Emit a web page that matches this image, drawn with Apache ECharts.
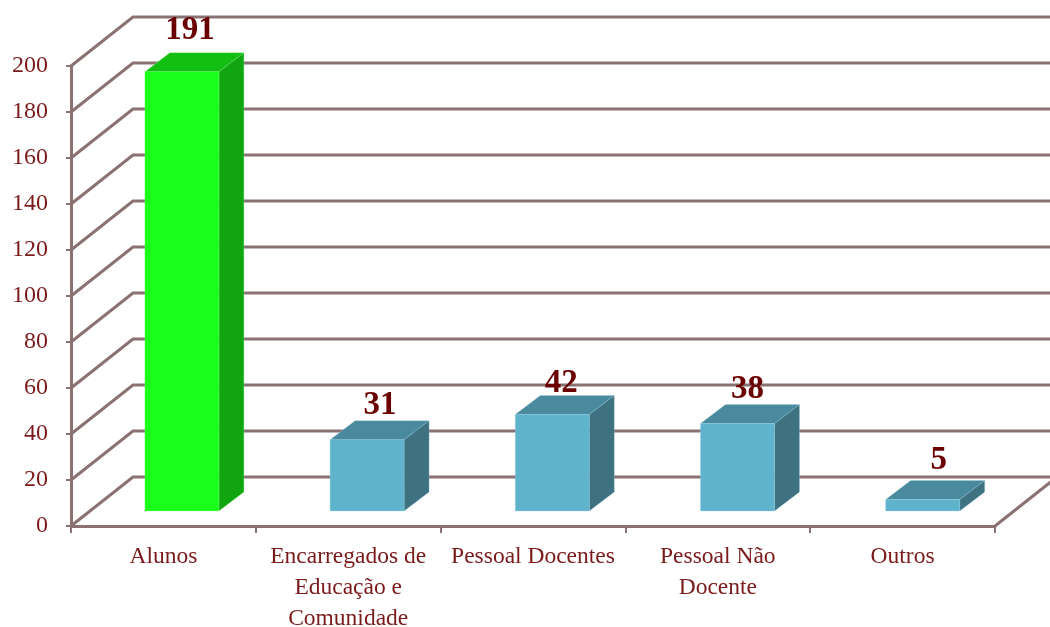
<!DOCTYPE html>
<html><head><meta charset="utf-8">
<style>html,body{margin:0;padding:0;background:#fff}#c{width:1050px;height:627px}</style>
<script src="https://cdn.jsdelivr.net/npm/echarts@6/dist/echarts.min.js"></script>
</head><body><div id="c"></div>
<script>
const categories = ["Alunos","Encarregados de\nEducação e\nComunidade","Pessoal Docentes","Pessoal Não\nDocente","Outros"];
const values = [191,31,42,38,5];
const yTicks = [0,20,40,60,80,100,120,140,160,180,200];

const WALL_DX = 62, WALL_DY = 49;      // depth of the whole chart box
const BAR_DX = 25, BAR_DY = 19;        // depth of a bar
const BAR_SHIFT_X = 18.5, BAR_SHIFT_Y = 15, BAR_DRIFT = 0.4; // bars stand mid-way on the floor
const BAR_W = 74;
const LINE = '#8a7272', FONT = '"Liberation Serif", serif';
const palette = [
  {front:'#1aff1a', top:'#14bf14', side:'#12a512', edge:'rgba(120,255,120,.3)'},
  {front:'#60b3cd', top:'#4a8a9e', side:'#3f7280', edge:'rgba(150,205,225,.3)'}
];
const labelNudge = [[8,-22],[13,-15],[9,-12],[10,-15],[16,-20]];

const chart = echarts.init(document.getElementById('c'));
function poly(points, fill, stroke){
  return {type:'polygon', shape:{points}, style:{fill, stroke:stroke||fill, lineWidth:1}};
}
chart.setOption({
  animation:false,
  grid:{left:71,right:55,top:66,bottom:101,outerBoundsMode:'none'},
  xAxis:{type:'category',data:categories,boundaryGap:true,
    axisLine:{lineStyle:{color:LINE,width:3}},
    axisTick:{show:true,alignWithLabel:false,length:7,lineStyle:{color:LINE,width:2}},
    axisLabel:{color:'#7a1a1a',fontFamily:FONT,fontSize:23.5,lineHeight:31,margin:15,interval:0},
    splitLine:{show:false}},
  yAxis:{type:'value',min:0,max:200,interval:20,
    axisLine:{show:true,lineStyle:{color:LINE,width:3}},
    axisTick:{show:true,length:5,lineStyle:{color:LINE,width:2}},
    axisLabel:{color:'#7a1a1a',fontFamily:FONT,fontSize:24,margin:23},
    splitLine:{show:false}},
  series:[
    {type:'custom',clip:false,z:1,silent:true,
     data:yTicks.map(t=>[0,t]),
     renderItem(params,api){
       const cs=params.coordSys, x0=cs.x, x1=cs.x+cs.width, y=api.coord([0,api.value(1)])[1];
       const style={stroke:LINE,lineWidth:3,fill:'none'};
       const children=[{type:'polyline',shape:{points:[[x0,y],[x0+WALL_DX,y-WALL_DY],[x1+WALL_DX,y-WALL_DY]]},style}];
       if(api.value(1)===0) children.push({type:'line',shape:{x1,y1:y,x2:x1+WALL_DX,y2:y-WALL_DY},style});
       return {type:'group',children};
     }},
    {type:'custom',clip:false,z:3,silent:true,
     data:values.map((v,i)=>[i,v]),
     renderItem(params,api){
       const i=api.value(0), v=api.value(1);
       const c=palette[i===0?0:1];
       const base=api.coord([i,0]), tip=api.coord([i,v]);
       const l=base[0]-BAR_W/2+BAR_SHIFT_X+BAR_DRIFT*i, r=l+BAR_W;
       const b=base[1]-BAR_SHIFT_Y, t=tip[1]-BAR_SHIFT_Y;
       const n=labelNudge[i];
       return {type:'group',children:[
         poly([[l,t],[r,t],[r+BAR_DX,t-BAR_DY],[l+BAR_DX,t-BAR_DY]],c.top,c.edge),
         poly([[r,t],[r+BAR_DX,t-BAR_DY],[r+BAR_DX,b-BAR_DY],[r,b]],c.side,c.edge),
         poly([[l,t],[r,t],[r,b],[l,b]],c.front,c.edge),
         {type:'text',style:{text:String(v),x:(l+r)/2+n[0],y:t-BAR_DY+n[1],
           align:'center',verticalAlign:'middle',fill:'#6b0000',
           font:'bold 33px '+FONT}}
       ]};
     }}
  ]
});
</script></body></html>
